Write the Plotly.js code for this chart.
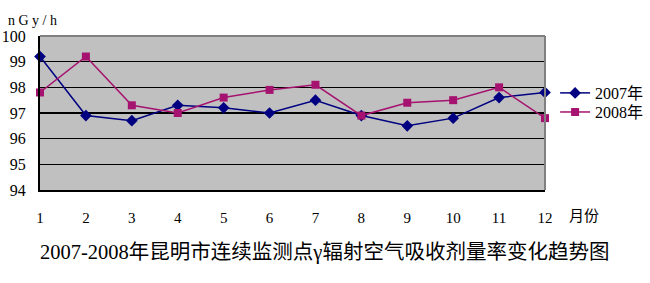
<!DOCTYPE html>
<html>
<head>
<meta charset="utf-8">
<script src="https://cdn.plot.ly/plotly-3.0.1.min.js"></script>
<style>html,body{margin:0;padding:0;background:#fff;}#chart{width:650px;height:283px;}</style>
</head>
<body>
<div id="chart"></div>
<script>
const months = [1,2,3,4,5,6,7,8,9,10,11,12];
const series2007 = [99.2,96.9,96.7,97.3,97.2,97.0,97.5,96.9,96.5,96.8,97.6,97.8];
const series2008 = [97.8,99.2,97.3,97.0,97.6,97.9,98.1,96.9,97.4,97.5,98.0,96.8];
const seriesNames = ['2007年','2008年'];
const yTicks = [94,95,96,97,98,99,100];
const chartTitle = '2007-2008年昆明市连续监测点γ辐射空气吸收剂量率变化趋势图';
const unitLabel = 'n G y / h';
const xUnitLabel = '月份';

const serif = "'Liberation Serif', 'DejaVu Serif', 'Noto Sans CJK SC', serif";

const traces = [
  {x: months, y: series2007, name: seriesNames[0], type: 'scatter', mode: 'lines+markers', legend: 'legend',
   line: {color: '#000080', width: 1.5}, marker: {symbol: 'diamond', size: 9, color: '#000080'}, cliponaxis: false},
  {x: months, y: series2008, name: seriesNames[1], type: 'scatter', mode: 'lines+markers', legend: 'legend2',
   line: {color: '#A5126F', width: 1.5}, marker: {symbol: 'square', size: 8, color: '#A5126F'}, cliponaxis: false}
];

const legendBase = {xanchor: 'left', yanchor: 'middle', font: {family: serif, size: 16, color: '#000'},
  bgcolor: 'rgba(0,0,0,0)', itemwidth: 30};

const layout = {
  width: 650, height: 283,
  margin: {l: 40, r: 105, t: 36, b: 93, autoexpand: false},
  paper_bgcolor: '#ffffff',
  plot_bgcolor: '#C0C0C0',
  showlegend: true,
  legend: Object.assign({}, legendBase, {x: 1.02, y: 0.63}),
  legend2: Object.assign({}, legendBase, {x: 1.02, y: 0.506}),
  xaxis: {range: [1, 12], tickvals: months, ticktext: months.map(String), showgrid: false, zeroline: false,
          showline: true, linecolor: '#000', linewidth: 2, ticks: '', ticklabelstandoff: 13,
          tickfont: {family: serif, size: 15, color: '#000'}, fixedrange: true, automargin: false},
  yaxis: {range: [94, 100], tickvals: yTicks, showgrid: true, gridcolor: '#000', gridwidth: 1.3, zeroline: false,
          showline: true, linecolor: '#000', linewidth: 2, ticks: '', ticklabelstandoff: 9,
          tickfont: {family: serif, size: 16, color: '#000'}, fixedrange: true, automargin: false},
  shapes: [
    {type: 'line', xref: 'paper', yref: 'paper', x0: 0, x1: 1, y0: 1, y1: 1, line: {color: '#808080', width: 2}},
    {type: 'line', xref: 'paper', yref: 'paper', x0: 1, x1: 1, y0: 0, y1: 1, line: {color: '#808080', width: 2}}
  ],
  annotations: [
    {text: unitLabel, xref: 'paper', yref: 'paper', x: -0.068, y: 1.1, xanchor: 'left', yanchor: 'middle',
     showarrow: false, font: {family: serif, size: 14, color: '#000'}},
    {text: xUnitLabel, xref: 'paper', yref: 'paper', x: 1.043, y: -0.17, xanchor: 'left', yanchor: 'middle',
     showarrow: false, font: {family: serif, size: 15, color: '#000'}},
    {text: chartTitle, xref: 'paper', yref: 'paper', x: 0.563, y: -0.405, xanchor: 'center', yanchor: 'middle',
     showarrow: false, font: {family: serif, size: 20.5, color: '#000'}}
  ]
};

Plotly.newPlot('chart', traces, layout, {displayModeBar: false, staticPlot: true});
</script>
</body>
</html>
